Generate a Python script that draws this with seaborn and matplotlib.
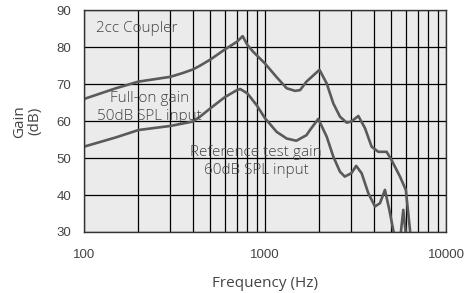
import numpy as np
import pandas as pd
import matplotlib.pyplot as plt
import seaborn as sns
from matplotlib.ticker import FixedLocator, NullFormatter

# ---------- DATA ----------
freq_full = [100, 150, 200, 300, 350, 400, 437, 500, 600, 700, 753, 800, 860, 1000,
             1160, 1318, 1465, 1563, 1695, 2000, 2193, 2385, 2597, 2828, 3000,
             3279, 3569, 3882, 4227, 4700, 5000, 5570, 6000, 6190, 6340, 6500]
gain_full = [66.0, 68.9, 70.7, 72.0, 73.0, 74.0, 75.0, 76.7, 79.4, 81.5, 83.0, 80.6, 78.8, 75.6,
             71.9, 68.9, 68.2, 68.4, 70.7, 73.9, 70.2, 64.8, 61.2, 59.6, 59.9,
             61.4, 58.1, 53.1, 51.7, 51.7, 49.5, 45.0, 41.4, 35.0, 30.1, 25.0]

freq_ref = [100, 150, 200, 300, 400, 437, 500, 600, 700, 730, 800, 900, 1000,
            1160, 1318, 1490, 1695, 1773, 1970, 2193, 2385, 2597, 2760, 3000,
            3190, 3420, 3723, 4052, 4318, 4600, 4864, 5115, 5300, 5550, 5810,
            6010, 6200]
gain_ref = [53.1, 55.6, 57.6, 58.7, 59.9, 61.2, 63.5, 66.5, 68.4, 68.7, 67.5, 64.3, 60.8,
            57.1, 55.3, 54.7, 56.2, 57.6, 60.6, 55.8, 50.4, 46.3, 45.0, 45.9,
            47.9, 45.9, 40.5, 36.9, 37.8, 41.4, 36.0, 30.5, 26.0, 27.0, 36.0,
            29.0, 25.0]

y_ticks = [30, 40, 50, 60, 70, 80, 90]
x_ticks = [100, 1000, 10000]
x_grid = [m * d for d in (100, 1000) for m in range(1, 10)] + [10000]

LINE_COLOR = "#5a5a5a"
TEXT_COLOR = "#444444"
FS = 11
TICK_FS = 9.5
# ---------------------------


def main():
    sns.set_style("white", {"axes.facecolor": "#ebebeb"})
    plt.rcParams["font.family"] = ["Open Sans", "DejaVu Sans"]
    plt.rcParams["font.weight"] = "light"

    fig = plt.figure(figsize=(4.65, 2.93), dpi=100)
    ax = fig.add_axes([0.1806, 0.2082, 0.7785, 0.7566])
    ax.set_xscale("log")

    sns.lineplot(x=freq_full, y=gain_full, ax=ax, color=LINE_COLOR, lw=1.9, sort=False)
    sns.lineplot(x=freq_ref, y=gain_ref, ax=ax, color=LINE_COLOR, lw=1.9, sort=False)

    ax.set_xlim(100, 10000)
    ax.set_ylim(30, 90)

    # every decade step gets a vertical line
    ax.xaxis.set_major_locator(FixedLocator(x_ticks))
    ax.xaxis.set_minor_locator(FixedLocator(x_grid))
    ax.xaxis.set_minor_formatter(NullFormatter())
    ax.set_xticklabels([str(t) for t in x_ticks])
    ax.set_yticks(y_ticks)
    ax.grid(True, which="both", axis="x", color="black", lw=0.9)
    ax.grid(True, which="major", axis="y", color="black", lw=0.9)
    ax.set_axisbelow(True)

    for s in ax.spines.values():
        s.set_color("#333333")
        s.set_linewidth(1.0)

    ax.tick_params(which="both", length=0, labelsize=TICK_FS, labelcolor=TEXT_COLOR)
    ax.tick_params(axis="x", pad=12)
    ax.tick_params(axis="y", pad=9)
    for lab in ax.get_xticklabels() + ax.get_yticklabels():
        lab.set_family(["Liberation Sans", "DejaVu Sans"])
        lab.set_weight("normal")

    ax.set_xlabel("Frequency (Hz)", fontsize=FS, color=TEXT_COLOR)
    ax.xaxis.set_label_coords(0.5, -0.20)
    ax.set_ylabel("Gain\n(dB)", fontsize=FS, color=TEXT_COLOR, linespacing=1.05)
    ax.yaxis.set_label_coords(-0.115, 0.5)

    ax.text(0.033, 0.919, "2cc Coupler", transform=ax.transAxes, fontsize=FS,
            color=TEXT_COLOR, ha="left", va="center")
    ax.text(0.182, 0.562, "Full-on gain\n50dB SPL input", transform=ax.transAxes,
            fontsize=FS, color=TEXT_COLOR, ha="center", va="center", linespacing=1.25)
    ax.text(0.475, 0.318, "Reference test gain\n60dB SPL input", transform=ax.transAxes,
            fontsize=FS, color=TEXT_COLOR, ha="center", va="center", linespacing=1.25)

    fig.savefig("out.png", dpi=100)
    plt.close(fig)


if __name__ == "__main__":
    main()
